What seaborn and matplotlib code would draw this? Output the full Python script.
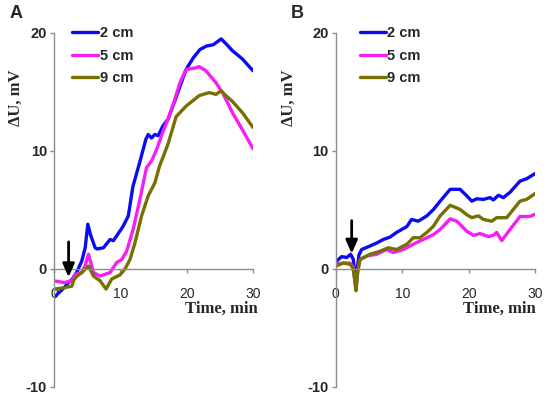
import matplotlib
matplotlib.use("Agg")
import matplotlib.pyplot as plt
import seaborn as sns
import pandas as pd

# ---------------- data ----------------
# Panel A
a2_t = [0, 0.2, 1.5, 2.1, 2.7, 3.5, 4.2, 4.7, 5.1, 5.5, 6.2, 6.5, 7.45, 8.45, 8.95, 10.4, 11.2, 11.9,
        12.9, 13.85, 14.2, 14.7, 15.2, 15.7, 16.4, 17.2, 18.5, 19.9, 21.0, 22.0, 23.0, 24.0, 25.2,
        26.0, 26.9, 28.4, 30]
a2_y = [-2.4, -2.3, -1.6, -1.2, -0.9, -0.2, 0.7, 1.8, 3.8, 2.9, 1.8, 1.7, 1.8, 2.5, 2.4, 3.6, 4.5, 7.0,
        9.0, 11.0, 11.4, 11.1, 11.4, 11.3, 12.1, 12.7, 14.7, 16.9, 17.9, 18.6, 18.9, 19.0, 19.5,
        19.05, 18.5, 17.8, 16.8]
a5_t = [0, 1.5, 2.7, 3.2, 4.2, 4.7, 5.2, 5.95, 6.95, 8.45, 9.45, 10.2, 10.95, 11.95, 12.95, 13.95,
        14.7, 15.45, 16.4, 17.2, 18.0, 19.0, 19.9, 21.4, 21.9, 22.9, 24.4, 25.4, 26.9, 28.4, 30]
a5_y = [-1.0, -1.15, -1.0, -0.45, -0.3, 0.3, 1.25, -0.3, -0.6, -0.3, 0.55, 0.8, 1.5, 3.4, 5.9, 8.6,
        9.15, 10.1, 11.6, 12.7, 14.0, 15.8, 16.9, 17.05, 17.15, 16.8, 15.8, 14.95, 13.25, 11.8, 10.2]
a9_t = [0, 1.5, 2.7, 3.0, 3.5, 4.2, 5.2, 5.95, 6.95, 7.85, 8.7, 9.95, 10.7, 11.45, 12.2, 13.2, 14.2,
        15.2, 15.9, 17.2, 18.4, 19.9, 21.9, 23.4, 24.4, 25.2, 25.9, 26.9, 28.4, 30]
a9_y = [-1.7, -1.6, -1.45, -0.9, -0.6, -0.3, 0.25, -0.6, -1.0, -1.7, -0.85, -0.5, 0.0, 0.8, 2.2, 4.5,
        6.2, 7.3, 8.7, 10.6, 12.9, 13.8, 14.7, 14.95, 14.8, 15.1, 14.7, 14.2, 13.25, 12.0]

# Panel B
b2_t = [0, 0.9, 1.65, 2.25, 2.65, 2.85, 3.05, 3.3, 3.5, 3.9, 5.15, 6.15, 7.15, 8.15, 9.15, 10.7, 11.4,
        12.4, 13.7, 14.7, 15.7, 17.2, 18.7, 19.7, 20.45, 21.2, 22.2, 23.2, 23.7, 24.45, 25.2, 26.2,
        27.7, 28.7, 30]
b2_y = [0.6, 1.05, 0.97, 1.25, 0.8, -0.3, -1.0, 0.3, 1.2, 1.65, 1.95, 2.2, 2.5, 2.7, 3.1, 3.6, 4.2,
        4.05, 4.5, 5.05, 5.75, 6.75, 6.75, 6.2, 5.75, 5.95, 5.9, 6.05, 5.85, 6.25, 6.05, 6.5,
        7.45, 7.65, 8.1]
b5_t = [0, 1.15, 2.15, 2.6, 2.85, 3.05, 3.3, 3.65, 4.65, 6.15, 7.65, 8.65, 10.15, 11.65, 13.15, 14.65,
        15.7, 17.2, 18.2, 19.7, 20.7, 21.7, 22.95, 23.7, 24.2, 24.95, 26.2, 27.7, 29.2, 30]
b5_y = [0.4, 0.5, 0.5, 0.2, -0.8, -1.7, -0.2, 0.8, 1.1, 1.25, 1.65, 1.4, 1.65, 2.1, 2.5, 2.9,
        3.35, 4.25, 4.05, 3.2, 2.85, 3.0, 2.75, 2.85, 3.1, 2.4, 3.35, 4.45, 4.45, 4.65]
b9_t = [0, 1.15, 2.15, 2.6, 2.85, 3.05, 3.3, 3.65, 5.15, 6.65, 7.9, 9.15, 10.7, 11.65, 12.65, 13.7,
        14.65, 15.7, 17.2, 18.7, 19.7, 20.45, 21.45, 22.2, 23.45, 24.2, 25.7, 27.7, 28.7, 30]
b9_y = [0.25, 0.5, 0.4, 0.1, -0.9, -1.85, -0.3, 0.8, 1.25, 1.5, 1.8, 1.65, 2.1, 2.65, 2.65, 3.1,
        3.6, 4.5, 5.4, 5.05, 4.6, 4.35, 4.5, 4.2, 4.05, 4.35, 4.35, 5.75, 5.9, 6.4]

labels = ["2 cm", "5 cm", "9 cm"]
colors = ["#0a0af5", "#f51ef5", "#767000"]
x_ticks = [0, 10, 20, 30]
y_ticks = [-10, 0, 10, 20]
panel_letters = ["A", "B"]
arrow_t = [2.2, 2.4]
arrow_y0 = [2.3, 4.1]
arrow_y1 = [-0.7, 1.3]

panels = [
    [(a2_t, a2_y), (a5_t, a5_y), (a9_t, a9_y)],
    [(b2_t, b2_y), (b5_t, b5_y), (b9_t, b9_y)],
]

sns.set_style("white")
plt.rcParams['font.family'] = ['Liberation Sans', 'DejaVu Sans']

fig = plt.figure(figsize=(5.46, 3.96), dpi=100)
W, H = 546, 396
axes_px = [(54, 253), (335.7, 535.3)]
ylab_x = [-0.19, -0.235]
xlab_right = [258, 536]
leg_x_px = [72, 359.7]
letter_x = [10, 291]

for i, series in enumerate(panels):
    x0, x1 = axes_px[i]
    ax = fig.add_axes([x0 / W, (H - 387) / H, (x1 - x0) / W, (387 - 33) / H])
    for (t, y), lab, col in zip(series, labels, colors):
        df = pd.DataFrame({"Time": t, "dU": y})
        sns.lineplot(data=df, x="Time", y="dU", ax=ax, color=col, lw=2.4,
                     label=lab, sort=False, estimator=None)
    ax.set_xlim(0, 30)
    ax.set_ylim(-10, 20)
    ax.set_xticks(x_ticks)
    ax.set_yticks(y_ticks)
    ax.set_xticklabels([str(v) for v in x_ticks], fontweight='bold', fontsize=10.5)
    ax.set_yticklabels([str(v) for v in y_ticks], fontweight='bold', fontsize=10.5)
    for s in ['top', 'right']:
        ax.spines[s].set_visible(False)
    ax.spines['bottom'].set_position(('data', 0))
    for s in ['left', 'bottom']:
        ax.spines[s].set_color('#8c8c8c')
        ax.spines[s].set_linewidth(1.0)
    ax.tick_params(axis='y', direction='out', length=3, width=1, color='#8c8c8c', pad=2, left=True)
    ax.tick_params(axis='x', direction='out', length=3, width=1, color='#8c8c8c', pad=10, bottom=True)

    ax.set_xlabel("Time, min", family=['Liberation Serif', 'DejaVu Serif'], fontweight='bold',
                  fontsize=12, ha='right', va='center')
    ax.xaxis.set_label_coords((xlab_right[i] - x0) / (x1 - x0), (387 - 309) / 354)
    ax.set_ylabel("ΔU, mV", family=['Liberation Serif', 'DejaVu Serif'], fontweight='bold',
                  fontsize=12, ha='center', va='center')
    ax.yaxis.set_label_coords(ylab_x[i], (387 - 98) / 354)

    ax.annotate("", xy=(arrow_t[i], arrow_y1[i]), xytext=(arrow_t[i], arrow_y0[i]),
                arrowprops=dict(arrowstyle='-|>,head_length=0.8,head_width=0.35', lw=2,
                                color='black', shrinkA=0, shrinkB=0))

    leg = ax.legend(frameon=False, loc='upper left',
                    bbox_to_anchor=((leg_x_px[i] - x0) / (x1 - x0), (387 - 26) / 354),
                    handlelength=1.8, handletextpad=0.1, labelspacing=0.6, borderaxespad=0,
                    borderpad=0, prop={'weight': 'bold', 'size': 10.5})
    for lh in leg.get_lines():
        lh.set_linewidth(2.4)

    fig.text(letter_x[i] / W, 1 - 14 / H, panel_letters[i], fontsize=13, fontweight='bold',
             ha='left', va='center')

fig.savefig("out.png", dpi=100)
